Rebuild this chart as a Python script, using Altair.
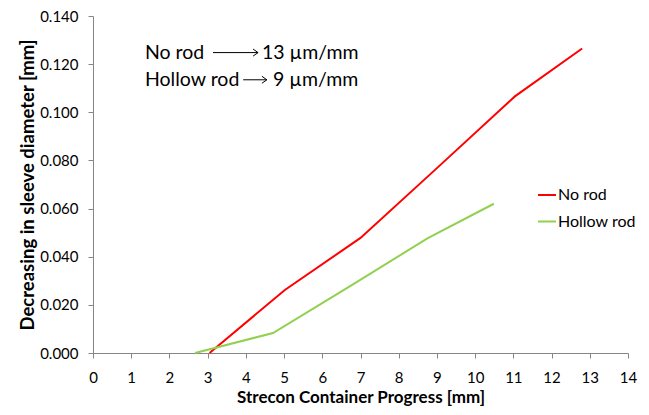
import altair as alt
import pandas as pd

# Series data
no_rod_x = [3.05, 5.02, 7.0, 9.0, 11.04, 12.8]
no_rod_y = [0.0, 0.0262, 0.0478, 0.0768, 0.1066, 0.1265]
hollow_x = [2.67, 4.71, 6.75, 8.75, 10.49]
hollow_y = [0.0, 0.0083, 0.0280, 0.0476, 0.0620]
series_names = ["No rod", "Hollow rod"]
series_colors = ["#FF0000", "#92D050"]
x_ticks = list(range(0, 15))
y_ticks = [0.0, 0.02, 0.04, 0.06, 0.08, 0.10, 0.12, 0.14]

# Annotation text
ann_left = ["No rod", "Hollow rod"]
ann_right = ["13 µm/mm", "9 µm/mm"]
ann_left_x = [1.36, 1.36]
ann_right_x = [4.42, 4.71]
ann_y = [0.1248, 0.1135]
arrow_x1 = [3.14, 3.93]
arrow_x2 = [4.32, 4.55]

rows = []
for x, y in zip(no_rod_x, no_rod_y):
    rows.append({"x": x, "y": y, "s": series_names[0]})
for x, y in zip(hollow_x, hollow_y):
    rows.append({"x": x, "y": y, "s": series_names[1]})
df = pd.DataFrame(rows)

ann = pd.DataFrame({
    "lt": ann_left, "rt": ann_right, "lx": ann_left_x, "rx": ann_right_x,
    "y": ann_y, "ax1": arrow_x1, "ax2": arrow_x2,
})

FONT = "Lato"
AX = "#868686"
X_TITLE = "Strecon Container Progress [mm]"
Y_TITLE = "Decreasing in sleeve diameter [mm]"

xs = alt.Scale(domain=[0, 14], nice=False, zero=False)
ys = alt.Scale(domain=[0, 0.14], nice=False)

x_axis = alt.Axis(values=x_ticks, format="d", grid=False, domainColor=AX,
                  tickColor=AX, tickSize=5, labelFontSize=15, labelFont=FONT,
                  labelPadding=12, labelColor="#000", titleFont=FONT,
                  titleFontSize=17, titleFontWeight="bold", titleColor="#000",
                  titlePadding=4, labelFlush=False, labelOverlap=False)
y_axis = alt.Axis(values=y_ticks, format=".3f", grid=False, domainColor=AX,
                  tickColor=AX, tickSize=5, labelFontSize=15, labelFont=FONT,
                  labelPadding=10, labelColor="#000", titleFont=FONT,
                  titleFontSize=18.5, titleFontWeight="bold", titleColor="#000",
                  titlePadding=2, labelFlush=False, labelOverlap=False)


def X(field):
    return alt.X(field, scale=xs, axis=x_axis, title=X_TITLE)


def Y(field):
    return alt.Y(field, scale=ys, axis=y_axis, title=Y_TITLE)


lines = alt.Chart(df).mark_line(strokeWidth=2).encode(
    x=X("x:Q"),
    y=Y("y:Q"),
    color=alt.Color("s:N", scale=alt.Scale(domain=series_names, range=series_colors),
                    legend=alt.Legend(title=None, orient="none", legendX=444, legendY=169,
                                      symbolType="stroke", symbolSize=324,
                                      symbolStrokeWidth=2, labelFont=FONT,
                                      labelFontSize=16, labelColor="#000",
                                      rowPadding=8.5, labelOffset=1, padding=0)),
    order=alt.Order("x:Q"),
)

left_text = alt.Chart(ann).mark_text(align="left", baseline="middle", font=FONT,
                                     fontSize=19.5, color="#000").encode(
    x=X("lx:Q"), y=Y("y:Q"), text="lt:N")
right_text = alt.Chart(ann).mark_text(align="left", baseline="middle", font=FONT,
                                      fontSize=19.5, color="#000").encode(
    x=X("rx:Q"), y=Y("y:Q"), text="rt:N")
shafts = alt.Chart(ann).mark_rule(color="#000", strokeWidth=1).encode(
    x=X("ax1:Q"), x2="ax2:Q", y=Y("y:Q"))
heads = alt.Chart(ann).mark_point(shape="M-1,-0.7L0,0L-1,0.7", filled=False,
                                  color="#000", strokeWidth=1, size=100, opacity=1).encode(
    x=X("ax2:Q"), y=Y("y:Q"))

chart = alt.layer(lines, shafts, heads, left_text, right_text).properties(
    width=535, height=337,
    background="#FFFFFF",
    autosize=alt.AutoSizeParams(type="none"),
    padding={"left": 85, "top": 8, "right": 13, "bottom": 54},
).configure_view(stroke=None)

chart.save("out.html", embed_options={"renderer": "svg", "actions": False})
